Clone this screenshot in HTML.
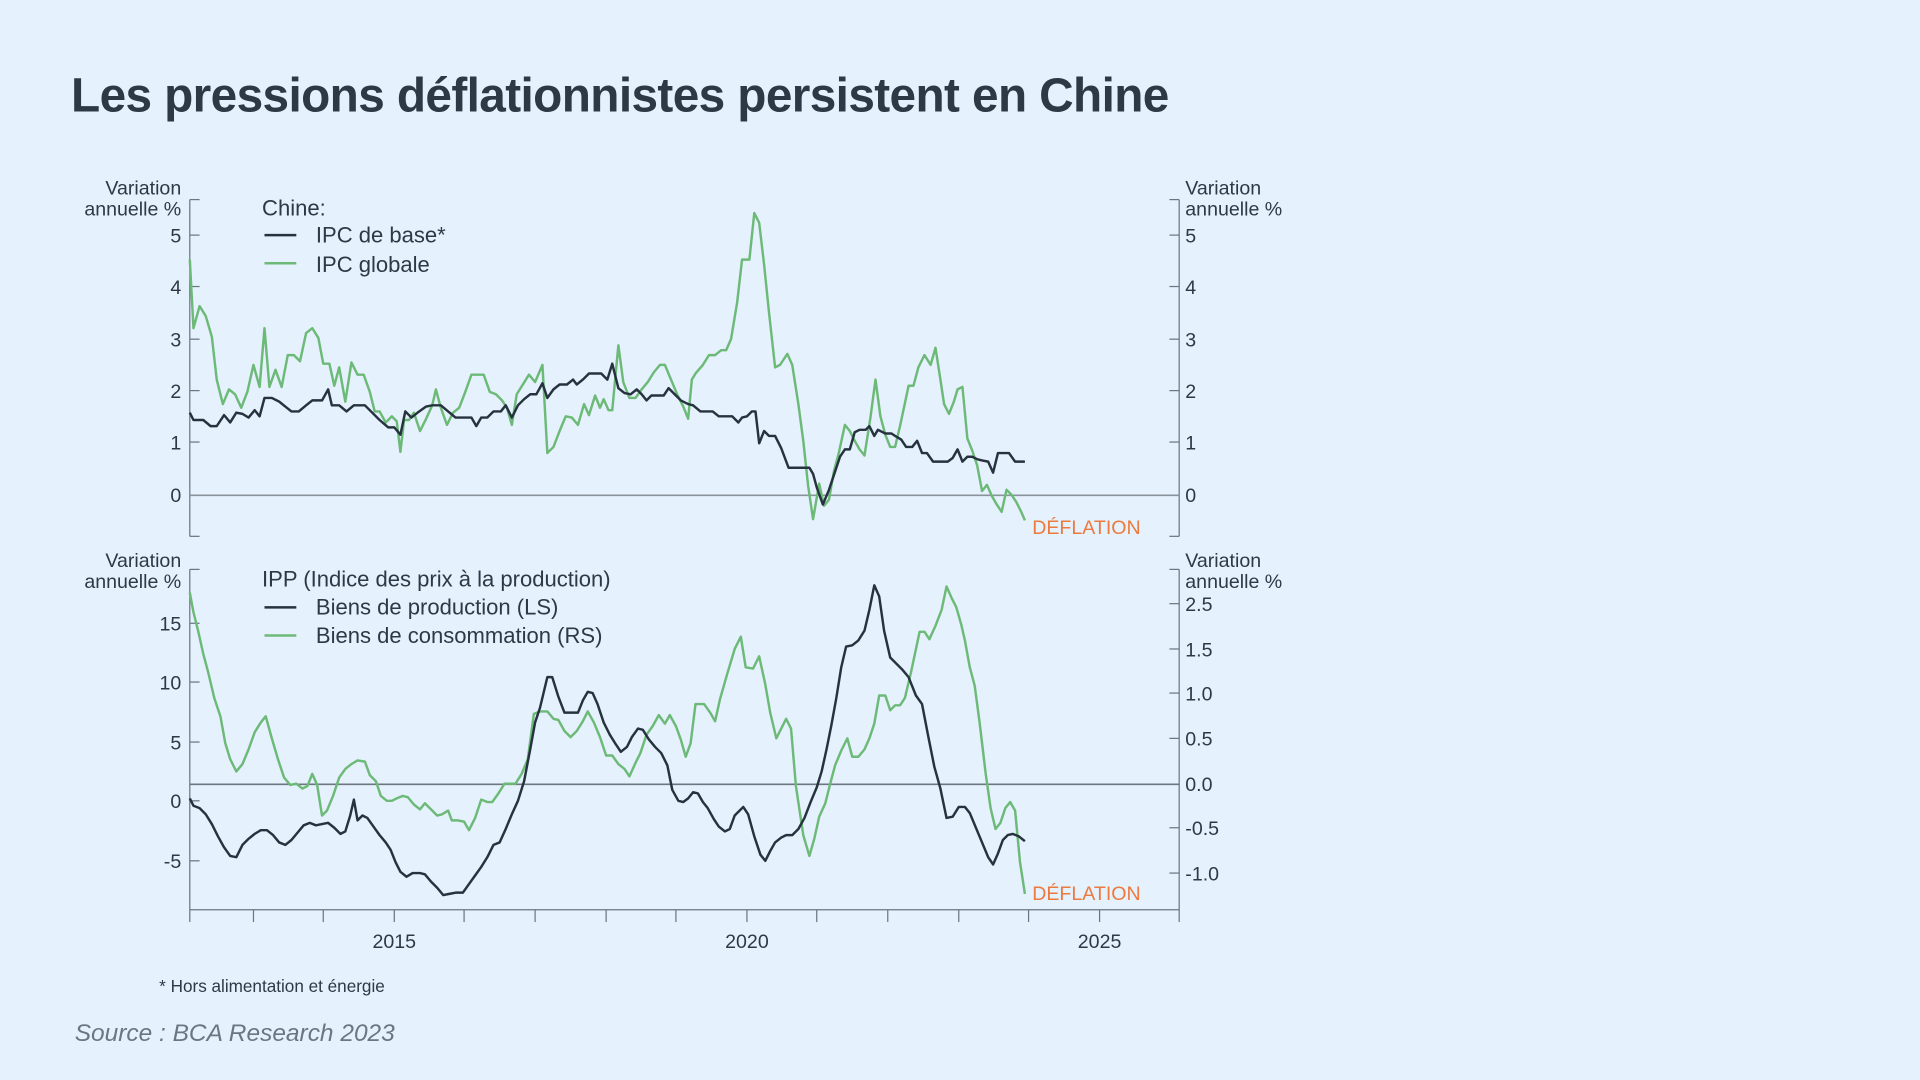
<!DOCTYPE html>
<html><head><meta charset="utf-8"><style>
html,body{margin:0;padding:0;background:#e5f1fc;}
svg{display:block}
text{font-family:"Liberation Sans",sans-serif;fill:#2d3a45}
</style></head><body>
<svg width="1920" height="1080" viewBox="0 0 1568 882" xmlns="http://www.w3.org/2000/svg">
<rect width="1568" height="882" fill="#e5f1fc"/>
<text x="58" y="91" font-size="39" font-weight="600" letter-spacing="-0.5">Les pressions déflationnistes persistent en Chine</text>

<!-- top panel -->
<g stroke="#6b7680" stroke-width="1" fill="none">
<line x1="155" y1="163" x2="155" y2="438"/><line x1="963" y1="163" x2="963" y2="438"/>
<line x1="155" y1="163" x2="163" y2="163"/><line x1="155" y1="192" x2="163" y2="192"/><line x1="155" y1="234" x2="163" y2="234"/><line x1="155" y1="277" x2="163" y2="277"/><line x1="155" y1="319" x2="163" y2="319"/><line x1="155" y1="361" x2="163" y2="361"/><line x1="155" y1="438" x2="163" y2="438"/>
<line x1="955" y1="163" x2="963" y2="163"/><line x1="955" y1="192" x2="963" y2="192"/><line x1="955" y1="234" x2="963" y2="234"/><line x1="955" y1="277" x2="963" y2="277"/><line x1="955" y1="319" x2="963" y2="319"/><line x1="955" y1="361" x2="963" y2="361"/><line x1="955" y1="438" x2="963" y2="438"/>
<line x1="155" y1="404.5" x2="963" y2="404.5" stroke="#8a939b" stroke-width="1.3"/>
</g>
<g font-size="16">
<text x="148" y="159" text-anchor="end">Variation</text><text x="148" y="176" text-anchor="end">annuelle %</text>
<text x="968" y="159">Variation</text><text x="968" y="176">annuelle %</text>
<g text-anchor="end"><text x="148" y="198">5</text><text x="148" y="240">4</text><text x="148" y="283">3</text><text x="148" y="325">2</text><text x="148" y="367">1</text><text x="148" y="410">0</text></g>
<text x="968" y="198">5</text><text x="968" y="240">4</text><text x="968" y="283">3</text><text x="968" y="325">2</text><text x="968" y="367">1</text><text x="968" y="410">0</text>
</g>
<g font-size="18">
<text x="214" y="176">Chine:</text>
<text x="258" y="198">IPC de base*</text><text x="258" y="222">IPC globale</text>
<text x="214" y="479">IPP (Indice des prix à la production)</text>
<text x="258" y="502">Biens de production (LS)</text><text x="258" y="525">Biens de consommation (RS)</text>
</g>
<line x1="216" y1="192" x2="242" y2="192" stroke="#26333f" stroke-width="2"/>
<line x1="216" y1="215" x2="242" y2="215" stroke="#6dba78" stroke-width="2"/>
<line x1="216" y1="496" x2="242" y2="496" stroke="#26333f" stroke-width="2"/>
<line x1="216" y1="519" x2="242" y2="519" stroke="#6dba78" stroke-width="2"/>

<polyline fill="none" stroke="#6dba78" stroke-width="2" stroke-linejoin="round" points="155,212 158,268 163,250 168,258 173,275 177,310 182,330 187,318 192,322 197,333 202,320 207,298 212,316 216,268 220,316 225,302 230,316 235,290 240,290 245,295 250,272 255,268 260,276 264,297 269,297 273,315 277,300 282,328 287,296 292,306 297,306 302,320 306,336 310,336 315,345 320,340 324,344 327,369 330,343 334,343 338,337 343,352 348,342 353,331 356,318 360,333 365,347 370,337 375,333 380,320 385,306 390,306 395,306 400,320 405,322 410,327 414,333 418,347 422,322 427,314 432,306 437,312 443,298 447,370 452,365 457,352 462,340 467,341 472,347 477,330 481,339 486,323 490,333 493,326 497,335 500,335 505,282 509,312 514,325 519,325 524,318 529,312 534,304 539,298 543,298 548,310 553,322 558,332 562,342 565,310 568,305 574,298 579,290 584,290 589,286 593,286 597,277 602,247 606,212 612,212 616,174 620,182 624,216 628,255 633,300 637,298 643,289 647,298 652,330 656,360 660,397 664,424 669,395 673,413 677,408 681,385 685,370 690,347 694,352 698,360 702,367 706,372 711,340 715,310 719,340 723,355 727,365 731,365 735,348 738,334 742,315 746,315 750,300 755,290 760,298 764,284 768,310 771,330 775,338 779,328 782,318 786,316 790,358 794,368 798,380 802,401 806,396 810,405 814,412 818,418 822,400 826,404 830,410 834,418 837,425"/>
<polyline fill="none" stroke="#26333f" stroke-width="2" stroke-linejoin="round" points="155,337 158,343 166,343 172,348 177,348 183,339 188,345 193,337 198,338 203,341 208,335 212,340 216,325 222,325 228,328 233,332 238,336 244,336 250,331 255,327 263,327 268,318 271,331 277,331 283,336 289,331 298,331 303,336 310,343 317,349 322,349 327,355 331,336 336,341 341,337 348,332 353,331 360,331 366,336 372,341 379,341 385,341 389,348 393,341 398,341 403,336 409,336 413,331 418,341 423,331 428,326 433,322 438,322 443,313 447,325 452,318 457,314 463,314 468,310 471,314 476,310 481,305 486,305 491,305 496,310 500,297 505,317 510,321 515,322 520,318 524,322 528,327 532,323 538,323 542,323 546,317 552,323 556,327 562,330 566,331 572,336 577,336 582,336 587,340 592,340 598,340 603,345 606,341 610,340 614,336 617,336 620,362 624,352 628,356 633,356 638,366 644,382 650,382 656,382 661,382 664,387 667,398 672,412 677,400 682,385 686,373 690,367 694,367 698,353 702,351 707,351 710,348 714,356 717,351 723,354 728,354 731,356 736,359 740,365 745,365 749,360 753,370 757,370 762,377 768,377 774,377 778,374 782,367 786,377 790,373 794,373 798,375 802,376 807,377 811,386 815,370 820,370 824,370 829,377 834,377 837,377"/>
<text x="843" y="436" font-size="16" style="fill:#ec7a3e">DÉFLATION</text>

<!-- bottom panel -->
<g stroke="#6b7680" stroke-width="1" fill="none">
<line x1="155" y1="465" x2="155" y2="753"/><line x1="963" y1="465" x2="963" y2="753"/>
<line x1="155" y1="743" x2="963" y2="743"/>
<line x1="155" y1="465" x2="163" y2="465"/><line x1="155" y1="509" x2="163" y2="509"/><line x1="155" y1="557" x2="163" y2="557"/><line x1="155" y1="606" x2="163" y2="606"/><line x1="155" y1="654" x2="163" y2="654"/><line x1="155" y1="703" x2="163" y2="703"/>
<line x1="955" y1="465" x2="963" y2="465"/><line x1="955" y1="493" x2="963" y2="493"/><line x1="955" y1="530" x2="963" y2="530"/><line x1="955" y1="566" x2="963" y2="566"/><line x1="955" y1="603" x2="963" y2="603"/><line x1="955" y1="676" x2="963" y2="676"/><line x1="955" y1="713" x2="963" y2="713"/>
<line x1="207" y1="743" x2="207" y2="753"/><line x1="264" y1="743" x2="264" y2="753"/><line x1="322" y1="743" x2="322" y2="753"/><line x1="379" y1="743" x2="379" y2="753"/><line x1="437" y1="743" x2="437" y2="753"/><line x1="495" y1="743" x2="495" y2="753"/><line x1="552" y1="743" x2="552" y2="753"/><line x1="610" y1="743" x2="610" y2="753"/><line x1="667" y1="743" x2="667" y2="753"/><line x1="725" y1="743" x2="725" y2="753"/><line x1="783" y1="743" x2="783" y2="753"/><line x1="840" y1="743" x2="840" y2="753"/><line x1="898" y1="743" x2="898" y2="753"/>
<line x1="155" y1="640.5" x2="963" y2="640.5" stroke="#6b7680" stroke-width="1.3"/>
</g>
<g font-size="16">
<text x="148" y="463" text-anchor="end">Variation</text><text x="148" y="480" text-anchor="end">annuelle %</text>
<text x="968" y="463">Variation</text><text x="968" y="480">annuelle %</text>
<g text-anchor="end"><text x="148" y="515">15</text><text x="148" y="563">10</text><text x="148" y="612">5</text><text x="148" y="660">0</text><text x="148" y="709">-5</text></g>
<text x="968" y="499">2.5</text><text x="968" y="536">1.5</text><text x="968" y="572">1.0</text><text x="968" y="609">0.5</text><text x="968" y="646">0.0</text><text x="968" y="682">-0.5</text><text x="968" y="719">-1.0</text>
<g text-anchor="middle"><text x="322" y="774">2015</text><text x="610" y="774">2020</text><text x="898" y="774">2025</text></g>
</g>
<polyline fill="none" stroke="#6dba78" stroke-width="2" stroke-linejoin="round" points="155,484 158,500 162,516 166,534 170,549 175,570 180,585 184,607 188,620 193,630 198,624 203,612 208,598 213,590 217,585 222,603 227,620 232,635 237,641 242,640 247,644 251,642 255,632 259,641 263,666 267,662 272,650 277,635 282,628 287,624 292,621 298,622 302,633 307,638 311,650 316,654 320,654 324,652 329,650 333,651 338,657 343,661 347,656 352,661 357,666 361,665 366,662 369,670 374,670 379,671 383,678 388,668 393,653 398,655 402,655 407,648 412,640 416,640 421,640 426,632 431,620 436,583 441,581 447,581 452,587 456,588 461,597 466,602 471,597 476,589 480,581 485,590 490,602 495,617 500,617 505,624 510,628 514,634 519,623 523,615 528,600 533,593 538,584 543,591 547,584 552,593 556,604 560,618 564,607 568,575 575,575 580,582 584,589 588,571 594,550 600,530 605,520 609,545 615,546 620,536 625,559 629,582 634,603 638,595 642,587 646,595 650,642 656,682 661,699 665,685 669,667 674,656 678,640 682,625 687,613 692,603 696,618 701,618 706,612 710,603 714,591 718,568 723,568 727,580 731,576 735,576 739,570 744,549 751,516 755,516 759,522 764,511 769,498 773,479 777,488 781,496 785,510 788,523 792,545 796,560 800,590 805,632 809,660 813,677 817,672 821,660 825,655 829,662 833,704 837,730"/>
<polyline fill="none" stroke="#26333f" stroke-width="2" stroke-linejoin="round" points="155,652 158,658 163,660 168,665 173,673 178,683 183,692 188,699 193,700 198,690 203,685 208,681 213,678 218,678 223,682 228,688 233,690 238,686 243,680 248,674 253,672 258,674 263,673 268,672 273,676 278,681 282,679 286,666 289,653 292,670 296,666 300,668 305,675 310,682 315,688 319,694 323,704 327,712 332,716 337,713 343,713 347,714 352,720 357,725 362,731 367,730 372,729 378,729 383,722 388,715 393,708 398,700 403,690 408,688 413,677 418,665 423,654 428,638 433,612 437,590 441,578 447,553 451,553 456,569 461,582 467,582 472,582 476,572 480,565 484,566 488,575 493,590 498,600 503,608 507,614 512,610 516,602 521,595 525,596 530,604 535,610 540,615 545,625 549,645 554,654 558,655 562,652 566,647 570,648 574,655 578,660 583,669 587,675 592,679 596,677 600,666 604,662 607,659 611,665 616,683 621,698 625,703 629,695 633,688 638,684 642,682 647,682 652,677 657,668 662,655 667,643 671,630 675,612 679,592 683,570 687,545 691,528 696,527 701,523 706,515 710,498 714,478 718,487 722,515 727,537 732,542 737,547 742,553 748,568 753,575 758,601 763,626 768,644 773,668 778,667 783,659 788,659 792,664 797,676 802,688 807,700 811,706 815,697 819,686 823,682 827,681 832,683 837,687"/>
<text x="843" y="735" font-size="16" style="fill:#ec7a3e">DÉFLATION</text>

<text x="130" y="810" font-size="14">*  Hors alimentation et énergie</text>
<text x="61" y="850" font-size="20" font-style="italic" style="fill:#6b7680">Source : BCA Research 2023</text>
</svg>
</body></html>
